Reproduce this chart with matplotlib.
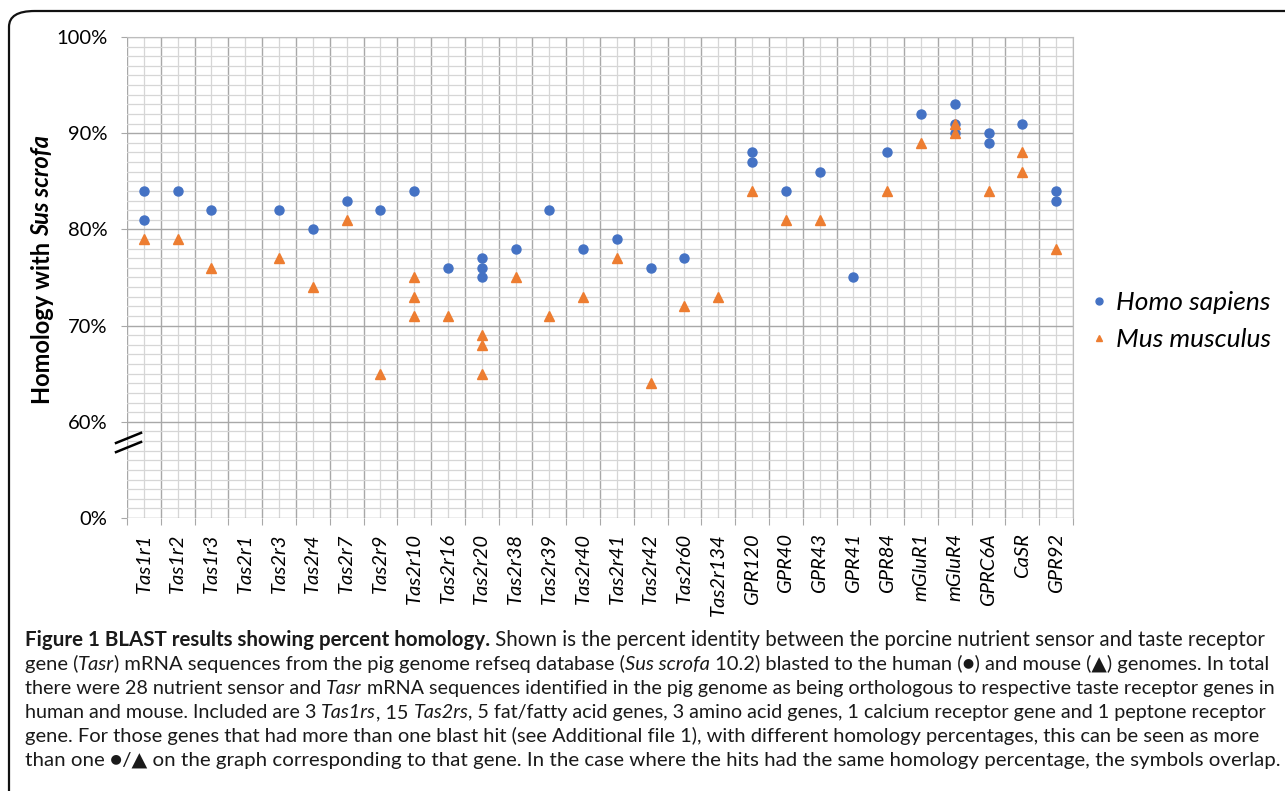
import numpy as np
import matplotlib
matplotlib.use('Agg')
import matplotlib.pyplot as plt
from matplotlib.lines import Line2D
from matplotlib.patches import FancyBboxPatch
from matplotlib.transforms import blended_transform_factory

# Genes on the x axis
genes = ['Tas1r1', 'Tas1r2', 'Tas1r3', 'Tas2r1', 'Tas2r3', 'Tas2r4', 'Tas2r7',
         'Tas2r9', 'Tas2r10', 'Tas2r16', 'Tas2r20', 'Tas2r38', 'Tas2r39',
         'Tas2r40', 'Tas2r41', 'Tas2r42', 'Tas2r60', 'Tas2r134', 'GPR120',
         'GPR40', 'GPR43', 'GPR41', 'GPR84', 'mGluR1', 'mGluR4', 'GPRC6A',
         'CaSR', 'GPR92']

# percent homology hits per gene (Homo sapiens)
human = [[84, 81], [84], [82], [], [82], [80], [83], [82], [84], [76],
         [77, 76, 75], [78], [82], [78], [79], [76], [77], [], [88, 87],
         [84], [86], [75], [88], [92], [93, 91, 90], [90, 89], [91], [84, 83]]

# percent homology hits per gene (Mus musculus)
mouse = [[79], [79], [76], [], [77], [74], [81], [65], [75, 73, 71], [71],
         [69, 68, 65], [75], [71], [73], [77], [64], [72], [73], [84],
         [81], [81], [], [84], [89], [91, 90], [84], [88, 86], [78]]

y_ticks = [50, 60, 70, 80, 90, 100]
y_ticklabels = ['0%', '60%', '70%', '80%', '90%', '100%']

W, H = 1285, 791
BLUE = '#4472C4'
ORANGE = '#ED7D31'

plt.rcParams['font.family'] = ['Lato', 'DejaVu Sans']


def px(x, y):
    return x / W, 1 - y / H


def flatten(hits):
    xs, ys = [], []
    for i, vals in enumerate(hits):
        for v in vals:
            xs.append(i)
            ys.append(v)
    return xs, ys


def seg_width(fig, renderer, s, **kw):
    # advance width of a string, trailing/leading spaces included
    ref = fig.text(0, 0, 'xx', **kw)
    tmp = fig.text(0, 0, 'x' + s + 'x', **kw)
    w = tmp.get_window_extent(renderer).width - ref.get_window_extent(renderer).width
    ref.remove()
    tmp.remove()
    return w


def seg_style(kind, fs):
    kw = {'fontsize': fs, 'color': '#1a1a1a'}
    if kind == 'bold':
        kw['fontweight'] = 'bold'
    elif kind == 'italic':
        kw['style'] = 'italic'
    return kw


def main():
    fig = plt.figure(figsize=(W / 100, H / 100), dpi=100)

    # frame round the figure
    x0, y0 = px(9, 11)
    frame = FancyBboxPatch((x0, -0.05), 1.1, y0 + 0.05,
                           boxstyle='round,pad=0,rounding_size=0.02',
                           transform=fig.transFigure, fill=False,
                           edgecolor='#111111', linewidth=1.6)
    fig.patches.append(frame)

    l, t = px(127, 37)
    r, b = px(1073, 518)
    ax = fig.add_axes([l, b, r - l, t - b])

    n = len(genes)
    ax.set_xlim(-0.5, n - 0.5)
    ax.set_ylim(50, 100)

    # grid: boundaries darker, centres lighter
    ax.set_xticks(np.arange(-0.5, n, 1.0))
    ax.set_xticks(np.arange(n), minor=True)
    ax.set_xticklabels([])
    ax.set_xticklabels(genes, minor=True, rotation=90, style='italic',
                       fontsize=14.5, va='top', ha='center')
    ax.set_yticks(y_ticks)
    ax.set_yticklabels(y_ticklabels, fontsize=14.5)
    ax.set_yticks(np.arange(50, 101, 1), minor=True)

    ax.grid(which='major', color='#a8a8a8', linewidth=1.0)
    ax.grid(which='minor', color='#d6d6d6', linewidth=0.9)
    ax.set_axisbelow(True)

    ax.tick_params(axis='x', which='major', length=5, color='#a8a8a8',
                   direction='out')
    ax.tick_params(axis='x', which='minor', length=0, pad=11)
    ax.tick_params(axis='y', which='major', length=4, color='#a8a8a8',
                   direction='out', pad=10)
    ax.tick_params(axis='y', which='minor', length=0)
    for side in ['left', 'bottom']:
        ax.spines[side].set_visible(False)
    for side in ['top', 'right']:
        ax.spines[side].set_color('#bdbdbd')

    hx, hy = flatten(human)
    mx, my = flatten(mouse)
    ax.plot(hx, hy, 'o', color=BLUE, markersize=6.5, linestyle='none',
            label='Homo sapiens', zorder=3)
    ax.plot(mx, my, '^', color=ORANGE, markersize=7, linestyle='none',
            label='Mus musculus', zorder=3)

    # axis break marks
    tr = blended_transform_factory(ax.transAxes, ax.transData)
    for dy in (0.0, -0.95):
        ax.plot([-0.0116, 0.0148], [57.8 + dy, 58.85 + dy], color='black',
                linewidth=1.8, transform=tr, clip_on=False, zorder=5)

    # legend
    handles = [Line2D([], [], marker='o', color=BLUE, linestyle='none', markersize=5),
               Line2D([], [], marker='^', color=ORANGE, linestyle='none', markersize=5)]
    fig.legend(handles, ['Homo sapiens', 'Mus musculus'], loc='center left',
               bbox_to_anchor=px(1069, 321), frameon=False,
               prop={'style': 'italic', 'size': 19}, handlelength=0.45,
               handletextpad=0.45, labelspacing=0.55)

    fig.canvas.draw()
    renderer = fig.canvas.get_renderer()

    # y label: bold + bold italic, read bottom to top
    ylab = [('Homology with ', 'normal'), ('Sus scrofa', 'italic')]
    yfs = 17
    widths = [seg_width(fig, renderer, s, fontsize=yfs, fontweight='bold', style=st)
              for s, st in ylab]
    ypos = 270 + sum(widths) / 2
    for (s, st), w in zip(ylab, widths):
        fig.text(*px(42, ypos), s, rotation=90, fontsize=yfs, fontweight='bold',
                 style=st, ha='left', va='center', rotation_mode='anchor')
        ypos -= w

    # caption
    N, B, I = 'normal', 'bold', 'italic'
    caption = [
        [('Figure 1 BLAST results showing percent homology.', B),
         (' Shown is the percent identity between the porcine nutrient sensor and taste receptor', N)],
        [('gene (', N), ('Tasr', I), (') mRNA sequences from the pig genome refseq database (', N),
         ('Sus scrofa', I), (' 10.2) blasted to the human (\u25cf) and mouse (\u25b2) genomes. In total', N)],
        [('there were 28 nutrient sensor and ', N), ('Tasr', I),
         (' mRNA sequences identified in the pig genome as being orthologous to respective taste receptor genes in', N)],
        [('human and mouse. Included are 3 ', N), ('Tas1rs', I), (', 15 ', N), ('Tas2rs', I),
         (', 5 fat/fatty acid genes, 3 amino acid genes, 1 calcium receptor gene and 1 peptone receptor', N)],
        [('gene. For those genes that had more than one blast hit (see Additional file 1), with different homology percentages, this can be seen as more', N)],
        [('than one \u25cf/\u25b2 on the graph corresponding to that gene. In the case where the hits had the same homology percentage, the symbols overlap.', N)],
    ]
    line_ends = [1262, 1268, 1277, 1262, 1257, 1276]
    base_fs = 14.5
    for k, line in enumerate(caption):
        natural = sum(seg_width(fig, renderer, s, **seg_style(kind, base_fs))
                      for s, kind in line)
        fs = base_fs * (line_ends[k] - 25) / natural
        xcur = 25
        ybase = 646 + 24 * k
        for s, kind in line:
            kw = seg_style(kind, fs)
            w = seg_width(fig, renderer, s, **kw)
            fig.text(*px(xcur, ybase), s, ha='left', va='baseline', **kw)
            xcur += w

    fig.savefig('out.png', dpi=100)


if __name__ == '__main__':
    main()
